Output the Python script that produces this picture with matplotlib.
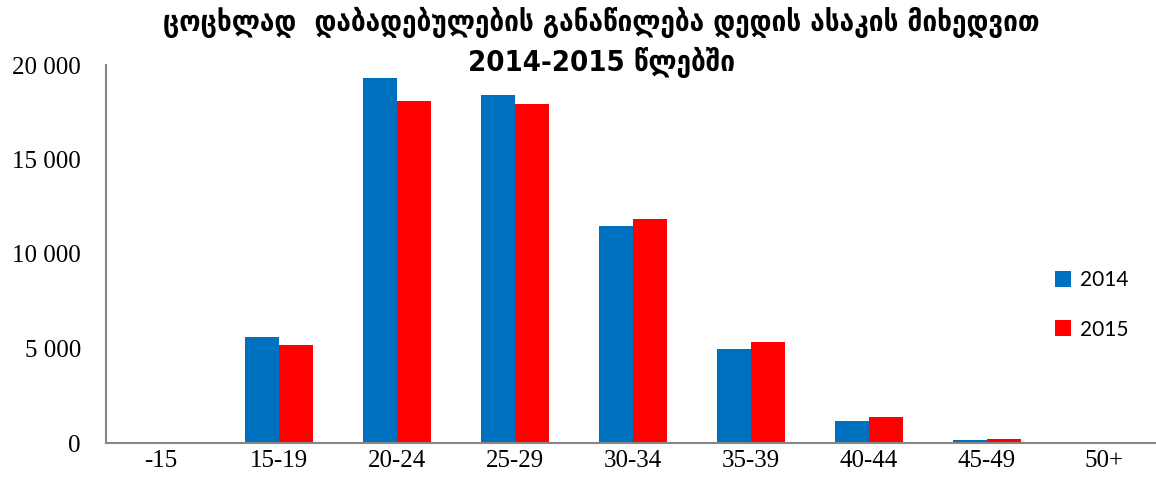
import numpy as np
import matplotlib
matplotlib.use("Agg")
import matplotlib.pyplot as plt

# Данные
categories = ["-15", "15-19", "20-24", "25-29", "30-34", "35-39", "40-44", "45-49", "50+"]
values_2014 = [15, 5600, 19300, 18400, 11480, 4980, 1160, 150, 10]
values_2015 = [60, 5180, 18080, 17930, 11850, 5340, 1380, 200, 40]
yticks = [0, 5000, 10000, 15000, 20000]
ytick_labels = ["0", "5 000", "10 000", "15 000", "20 000"]

fig = plt.figure(figsize=(11.56, 5), dpi=100)
ax = fig.add_axes([0.0915, 0.114, 0.918, 0.756])

x = np.arange(len(categories))
w = 0.288
ax.bar(x - w / 2, values_2014, width=w, color="#0070C0", label="2014")
ax.bar(x + w / 2, values_2015, width=w, color="#FF0000", label="2015")

ax.set_xlim(-0.47, 8.53)
ax.set_ylim(0, 20000)
ax.set_yticks(yticks)
ax.set_yticklabels(ytick_labels, fontfamily="Liberation Serif", fontsize=18)
ax.set_xticks(x)
ax.set_xticklabels(categories, fontfamily="Liberation Serif", fontsize=18)
ax.tick_params(axis="both", length=0)
ax.tick_params(axis="x", pad=5)
ax.tick_params(axis="y", pad=18)

for s in ["top", "right"]:
    ax.spines[s].set_visible(False)
for s in ["left", "bottom"]:
    ax.spines[s].set_color("#868686")
    ax.spines[s].set_linewidth(1.5)

fig.legend(loc="center left", bbox_to_anchor=(0.896, 0.39), frameon=False,
           prop={"family": "Lato", "size": 15}, handlelength=0.8, handleheight=0.8,
           handletextpad=0.4, labelspacing=1.4)

fig.text(0.52, 0.955, "ცოცხლად  დაბადებულების განაწილება დედის ასაკის მიხედვით",
         ha="center", va="center", fontsize=21, fontweight="bold",
         fontfamily="DejaVu Sans", fontstretch="condensed")
fig.text(0.52, 0.875, "2014-2015 წლებში",
         ha="center", va="center", fontsize=21, fontweight="bold",
         fontfamily="DejaVu Sans", fontstretch="condensed")

fig.savefig("out.png", dpi=100)
